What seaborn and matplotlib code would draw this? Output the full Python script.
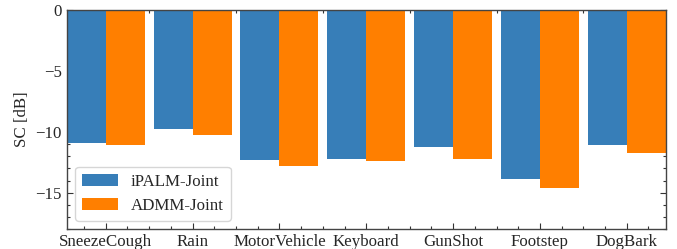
import matplotlib
matplotlib.use("Agg")
import matplotlib.pyplot as plt
from matplotlib.ticker import AutoMinorLocator, MultipleLocator
import seaborn as sns
import pandas as pd

categories = ["SneezeCough", "Rain", "MotorVehicle", "Keyboard", "GunShot", "Footstep", "DogBark"]
ipalm_joint = [-10.88, -9.75, -12.30, -12.21, -11.28, -13.85, -11.07]
admm_joint = [-11.07, -10.25, -12.84, -12.38, -12.21, -14.59, -11.72]
series_names = ["iPALM-Joint", "ADMM-Joint"]
colors = ["#377eb8", "#ff7f00"]

df = pd.DataFrame({
    "category": categories * 2,
    "value": ipalm_joint + admm_joint,
    "method": [series_names[0]] * len(categories) + [series_names[1]] * len(categories),
})

sns.set_style("ticks")
plt.rcParams["font.family"] = ["Liberation Serif", "DejaVu Serif"]
plt.rcParams["font.size"] = 12.2
plt.rcParams["axes.unicode_minus"] = True

fig = plt.figure(figsize=(6.77, 2.49), dpi=100)
ax = fig.add_axes([0.0985, 0.079, 0.885, 0.881])

sns.barplot(data=df, x="category", y="value", hue="method", order=categories,
            hue_order=series_names, palette=colors, width=0.9, saturation=1,
            linewidth=0, ax=ax)

ax.set_xlim(-0.45, len(categories) - 0.55)
ax.set_ylim(-18, 0)
ax.yaxis.set_major_locator(MultipleLocator(5))
ax.yaxis.set_minor_locator(AutoMinorLocator(5))
ax.xaxis.set_minor_locator(MultipleLocator(0.25))
ax.set_xlabel("")
ax.set_ylabel("SC [dB]", fontsize=12.2)
ax.tick_params(which="both", direction="in", top=True, right=True, labelsize=12.2, color="#333333")
ax.tick_params(which="major", length=4, width=0.8)
ax.tick_params(which="minor", length=2, width=0.8)
for s in ax.spines.values():
    s.set_linewidth(1.0)
    s.set_color("#444444")

leg = ax.legend(loc="lower left", fontsize=12.2, handlelength=2.1, frameon=True, fancybox=True)
leg.set_title(None)

fig.savefig("out.png", dpi=100)
